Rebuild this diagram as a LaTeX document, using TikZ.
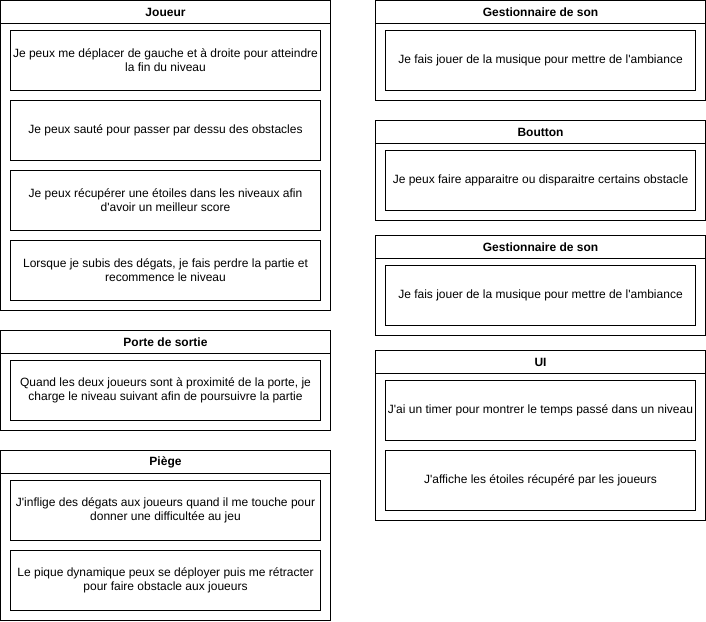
\documentclass[tikz,border=0pt]{standalone}
\usepackage{fontspec}
\setmainfont{Liberation Sans}[Ligatures=TeXOff]
\begin{document}
\begin{tikzpicture}[x=1pt,y=-1pt,
  lane/.style={draw=black, line width=1pt, fill=white, anchor=north west, inner sep=0pt, outer sep=0pt},
  head/.style={draw=black, line width=1pt, anchor=north west, inner sep=0pt, outer sep=0pt, minimum height=23pt, font=\fontsize{12pt}{14pt}\selectfont\bfseries},
  item/.style={draw=black, line width=1pt, anchor=north west, inner sep=0pt, outer sep=0pt, minimum width=310pt, minimum height=60pt, align=center, font=\fontsize{12pt}{14pt}\selectfont}]
\useasboundingbox[fill=white] (0,0) rectangle (706,621);
% Left column
\node[lane, minimum width=330pt, minimum height=310pt] (joueur) at (0.5,0.5) {};
\node[head, minimum width=330pt] (joueurH) at (0.5,0.5) {Joueur};
\node[item] (j1) at (10.5,30.5) {Je peux me déplacer de gauche et à droite pour atteindre\\la fin du niveau};
\node[item] (j2) at (10.5,100.5) {Je peux sauté pour passer par dessu des obstacles};
\node[item] (j3) at (10.5,170.5) {Je peux récupérer une étoiles dans les niveaux afin\\d'avoir un meilleur score};
\node[item] (j4) at (10.5,240.5) {Lorsque je subis des dégats, je fais perdre la partie et\\recommence le niveau};
\node[lane, minimum width=330pt, minimum height=100pt] (porte) at (0.5,330.5) {};
\node[head, minimum width=330pt] (porteH) at (0.5,330.5) {Porte de sortie};
\node[item] (p1) at (10.5,360.5) {Quand les deux joueurs sont à proximité de la porte, je\\charge le niveau suivant afin de poursuivre la partie};
\node[lane, minimum width=330pt, minimum height=170pt] (piege) at (0.5,450.5) {};
\node[head, minimum width=330pt] (piegeH) at (0.5,450.5) {Piège};
\node[item] (g1) at (10.5,480.5) {J'inflige des dégats aux joueurs quand il me touche pour\\donner une difficultée au jeu};
\node[item] (g2) at (10.5,550.5) {Le pique dynamique peux se déployer puis me rétracter\\pour faire obstacle aux joueurs};
% Right column
\node[lane, minimum width=330pt, minimum height=100pt] (son1) at (375.5,0.5) {};
\node[head, minimum width=330pt] (son1H) at (375.5,0.5) {Gestionnaire de son};
\node[item] (s1) at (385.5,30.5) {Je fais jouer de la musique pour mettre de l'ambiance};
\node[lane, minimum width=330pt, minimum height=100pt] (bouton) at (375.5,120.5) {};
\node[head, minimum width=330pt] (boutonH) at (375.5,120.5) {Boutton};
\node[item] (b1) at (385.5,150.5) {Je peux faire apparaitre ou disparaitre certains obstacle};
\node[lane, minimum width=330pt, minimum height=100pt] (son2) at (375.5,235.5) {};
\node[head, minimum width=330pt] (son2H) at (375.5,235.5) {Gestionnaire de son};
\node[item] (s2) at (385.5,265.5) {Je fais jouer de la musique pour mettre de l'ambiance};
\node[lane, minimum width=330pt, minimum height=170pt] (ui) at (375.5,350.5) {};
\node[head, minimum width=330pt] (uiH) at (375.5,350.5) {UI};
\node[item] (u1) at (385.5,380.5) {J'ai un timer pour montrer le temps passé dans un niveau};
\node[item] (u2) at (385.5,450.5) {J'affiche les étoiles récupéré par les joueurs};
\end{tikzpicture}
\end{document}
